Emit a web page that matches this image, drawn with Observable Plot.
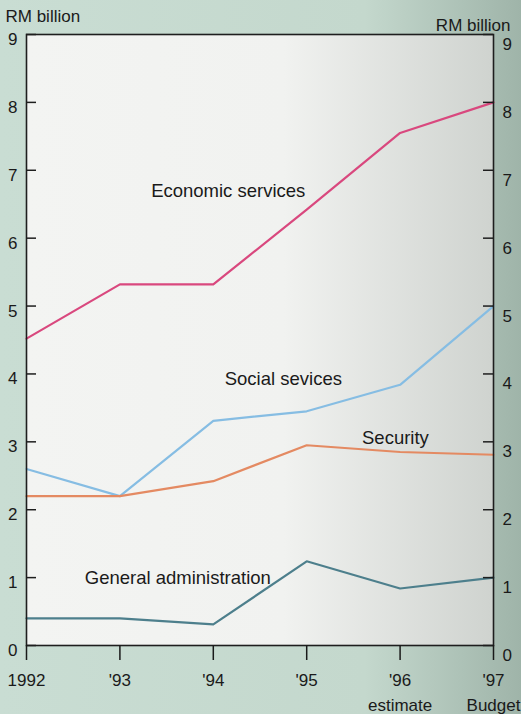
<!DOCTYPE html>
<html><head><meta charset="utf-8">
<script src="https://cdn.jsdelivr.net/npm/d3@7"></script>
<script src="https://cdn.jsdelivr.net/npm/@observablehq/plot@0.6"></script>
<style>
html,body{margin:0;padding:0;background:#c6dacf;}
#chart{width:521px;height:714px;background:linear-gradient(90deg,#c9ddd3 0%,#c4d8cd 70%,#9fb4a9 100%);}
svg{font-family:"Liberation Sans",Arial,sans-serif;}
</style></head>
<body><div id="chart"></div>
<script>
const years = [1992, 1993, 1994, 1995, 1996, 1997];
const yearLabels = ["1992", "'93", "'94", "'95", "'96\nestimate", "'97\nBudget"];
const economic = [4.52, 5.32, 5.32, 6.42, 7.55, 8.0];
const social = [2.6, 2.2, 3.31, 3.45, 3.84, 5.0];
const security = [2.2, 2.2, 2.42, 2.95, 2.85, 2.81];
const generalAdmin = [0.4, 0.4, 0.31, 1.24, 0.84, 1.0];
const seriesNames = ["Economic services", "Social sevices", "Security", "General administration"];
const seriesColors = ["#d9487e", "#86bde3", "#e48a62", "#4d7f8c"];
const yTicks = [0, 1, 2, 3, 4, 5, 6, 7, 8, 9];

const seriesValues = [economic, social, security, generalAdmin];
const rows = seriesNames.flatMap((name, i) => years.map((yr, j) => ({series: name, year: yr, value: seriesValues[i][j]})));
const labelPos = [
  {series: "Economic services", year: 1994.16, value: 6.7},
  {series: "Social sevices", year: 1994.75, value: 3.93},
  {series: "Security", year: 1995.95, value: 3.05},
  {series: "General administration", year: 1993.62, value: 1.0}
];

const W = 521, H = 714, mL = 26, mR = 28, mT = 34, mB = 69;
const innerW = W - mL - mR;

const chart = Plot.plot({
  width: W, height: H,
  marginLeft: mL, marginRight: mR, marginTop: mT, marginBottom: mB,
  style: {background: "transparent", fontFamily: "'Liberation Sans', Arial, sans-serif", fontSize: "16px", color: "#1a1a1a"},
  x: {domain: [1992, 1997]},
  y: {domain: [0, 9]},
  color: {domain: seriesNames, range: seriesColors},
  marks: [
    Plot.frame({fill: "url(#plotbg)", stroke: "none"}),
    Plot.line(rows, {x: "year", y: "value", z: "series", stroke: "series", strokeWidth: 2.2}),
    Plot.text(labelPos, {x: "year", y: "value", text: "series", fontSize: 18.5, fill: "#1a1a1a"}),
    Plot.frame({stroke: "#1e1e1e", strokeWidth: 1.6}),
    Plot.tickY(yTicks, {y: d => d, insetRight: innerW - 10, stroke: "#1e1e1e", strokeWidth: 1.5}),
    Plot.tickY(yTicks, {y: d => d, insetLeft: innerW - 10, stroke: "#1e1e1e", strokeWidth: 1.5}),
    Plot.axisY(yTicks, {anchor: "left", tickSize: 0, tickPadding: 9, dy: 5, fontSize: 17, label: null, tickFormat: d => String(d)}),
    Plot.axisY(yTicks, {anchor: "right", tickSize: 0, tickPadding: 9, dy: 10, fontSize: 17, label: null, tickFormat: d => String(d)}),
    Plot.axisX(years, {tickSize: 15, tickPadding: 8, strokeWidth: 1.5, fontSize: 17, lineHeight: 1.45,
      tickFormat: d => yearLabels[years.indexOf(d)], label: null}),
    Plot.text(["RM billion"], {frameAnchor: "top-left", text: d => d, textAnchor: "start", dx: -21, dy: -25, fontSize: 17}),
    Plot.text(["RM billion"], {frameAnchor: "top-right", text: d => d, textAnchor: "end", dx: 17, dy: -16, fontSize: 17})
  ]
});

const svg = d3.select(chart);
const defs = svg.insert("defs", ":first-child");
const g = defs.append("linearGradient").attr("id", "plotbg").attr("x1", "0").attr("x2", "1").attr("y1", "0").attr("y2", "0");
g.append("stop").attr("offset", "0%").attr("stop-color", "#f3f4f2");
g.append("stop").attr("offset", "55%").attr("stop-color", "#f1f2f0");
g.append("stop").attr("offset", "100%").attr("stop-color", "#cfd3cf");
document.getElementById("chart").appendChild(chart);
</script>
</body></html>
